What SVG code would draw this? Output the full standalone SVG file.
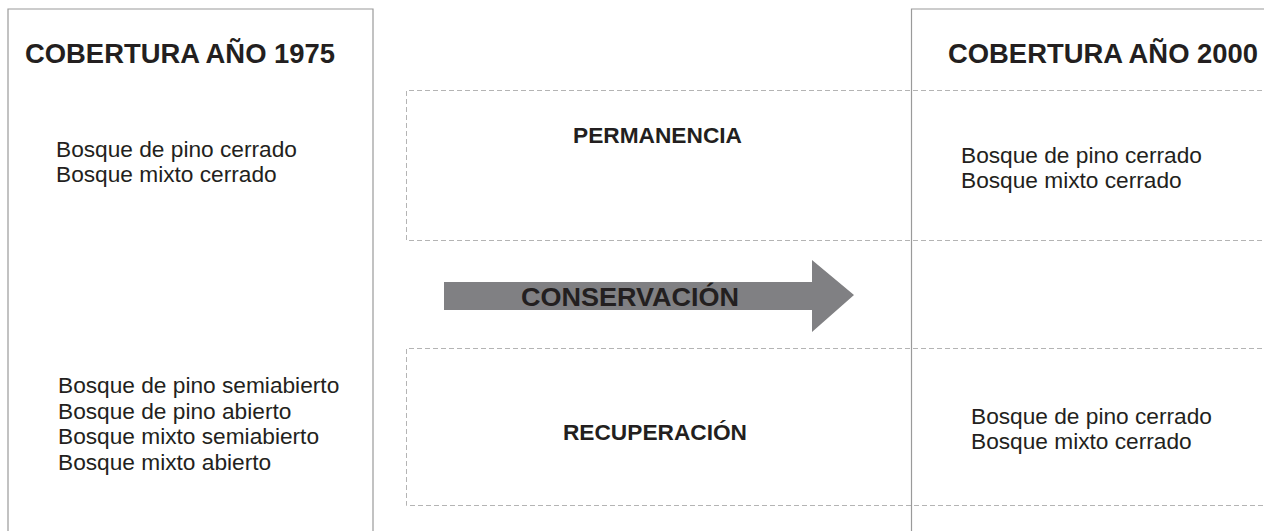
<svg xmlns="http://www.w3.org/2000/svg" width="1264" height="531" viewBox="0 0 1264 531">
<style>
.frame{fill:none;stroke:#9a9a9a;stroke-width:1.2}
.dash{fill:none;stroke:#b4b4b4;stroke-width:1;stroke-dasharray:5 3}
.title{font-family:"Liberation Sans",Arial,sans-serif;font-weight:bold;font-size:27px;fill:#231f20}
.lab{font-family:"Liberation Sans",Arial,sans-serif;font-weight:bold;font-size:22.7px;fill:#231f20;text-anchor:middle}
.body{font-family:"Liberation Sans",Arial,sans-serif;font-size:22.7px;fill:#231f20}
</style>
<rect width="1264" height="531" fill="#ffffff"/>
<g id="cobertura-1975">
<path class="frame" d="M8,540 V9 H373 V540"/>
<text class="title" x="25" y="63" textLength="310" lengthAdjust="spacingAndGlyphs">COBERTURA AÑO 1975</text>
<text class="body" x="56" y="157">Bosque de pino cerrado</text>
<text class="body" x="56" y="182">Bosque mixto cerrado</text>
<text class="body" x="58" y="393">Bosque de pino semiabierto</text>
<text class="body" x="58" y="418.5">Bosque de pino abierto</text>
<text class="body" x="58" y="444">Bosque mixto semiabierto</text>
<text class="body" x="58" y="469.5">Bosque mixto abierto</text>
</g>
<g id="permanencia">
<path class="dash" d="M1270,90.5 H406.5 V240.5 H1270"/>
<text class="lab" x="657.5" y="143">PERMANENCIA</text>
</g>
<g id="recuperacion">
<path class="dash" d="M1270,348.5 H406.5 V505.5 H1270"/>
<text class="lab" x="655" y="440">RECUPERACIÓN</text>
</g>
<g id="cobertura-2000">
<path class="frame" d="M911.5,540 V9 H1270"/>
<text class="title" x="948" y="63" textLength="310" lengthAdjust="spacingAndGlyphs">COBERTURA AÑO 2000</text>
<text class="body" x="961" y="163">Bosque de pino cerrado</text>
<text class="body" x="961" y="188">Bosque mixto cerrado</text>
<text class="body" x="971" y="424">Bosque de pino cerrado</text>
<text class="body" x="971" y="449">Bosque mixto cerrado</text>
</g>
<g id="connectors">
<g id="conservacion">
<polygon points="444,282 812,282 812,260 854,295 812,332 812,310 444,310" fill="#808083"/>
<text class="lab" x="630" y="306" style="font-size:26.5px" textLength="218" lengthAdjust="spacingAndGlyphs">CONSERVACIÓN</text>
</g>
</g>
</svg>
